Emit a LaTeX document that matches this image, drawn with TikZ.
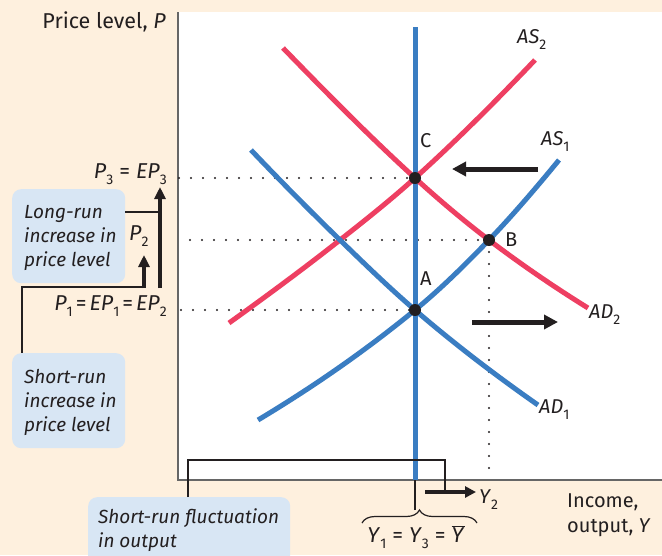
\documentclass[tikz,border=0pt]{standalone}
\usepackage{fontspec}
\setmainfont{Fira Sans}
\usetikzlibrary{arrows.meta,decorations.pathreplacing}
\definecolor{bgcream}{HTML}{FEF0DE}
\definecolor{curveblue}{HTML}{3A7DC2}
\definecolor{curvered}{HTML}{EE3F62}
\definecolor{boxblue}{HTML}{D8E6F4}
\definecolor{axisgray}{HTML}{666666}
\definecolor{inkblack}{HTML}{231F20}
\newcommand\sbx[1]{\raisebox{-0.32em}{\fontsize{14}{14}\selectfont #1}}
\newcommand\eqsp{\hspace{3pt}=\hspace{3pt}}
\tikzset{
  curve/.style={line width=5pt},
  dotline/.style={inkblack,line width=2.4pt,line cap=round,dash pattern=on 0pt off 12pt},
  ptdot/.style={circle,fill=inkblack,inner sep=0pt,minimum size=12pt},
  bigarrow/.style={inkblack,line width=5pt,-{Triangle[length=14pt,width=14pt]}},
  uparrow/.style={inkblack,line width=4pt,-{Triangle[length=12pt,width=11pt]}},
  connector/.style={inkblack,line width=1.2pt},
  notebox/.style={fill=boxblue,rounded corners=9pt},
  lbl/.style={font=\fontsize{20}{24}\selectfont,text=inkblack,inner sep=0pt},
  plbl/.style={font=\fontsize{21.5}{24}\selectfont,text=inkblack,inner sep=0pt},
  boxtext/.style={font=\fontsize{19}{24}\selectfont\itshape,text=inkblack,align=left,inner sep=0pt}
}
\begin{document}
\begin{tikzpicture}[x=1pt,y=-1pt]
\useasboundingbox (0,0) rectangle (662,555);
\fill[bgcream] (0,0) rectangle (662,555);
\fill[white] (178,12) rectangle (662,480);
% axes
\coordinate (ytop) at (178,12);
\coordinate (origin) at (178,480);
\coordinate (xend) at (662,480);
\draw[axisgray,line width=2pt] (ytop) -- (origin) -- (xend);
% points
\coordinate (A) at (415,310);
\coordinate (B) at (489,240);
\coordinate (C) at (415,178);
% dotted guides
\coordinate (p3) at (179,178);
\coordinate (p2) at (190,240);
\coordinate (p1) at (181,310);
\coordinate (bfoot) at (489,474);
\draw[dotline] (p3) -- (C);
\draw[dotline] (p2) -- (B);
\draw[dotline] (p1) -- (A);
\draw[dotline] (B) -- (bfoot);
% LRAS
\coordinate (lrtop) at (415,27);
\coordinate (lrbot) at (415,480);
\draw[curve,curveblue] (lrtop) -- (lrbot);
% AS1
\draw[curve,curveblue] (258,420) .. controls (310.3,388.6) and (362.7,352.9) .. (A)
  .. controls (439.7,289.8) and (464.3,265.7) .. (B)
  .. controls (512.3,215.7) and (535.7,188.4) .. (559,160);
% AS2
\draw[curve,curvered] (229,323) .. controls (266,296.4) and (303,269.2) .. (340,240)
  .. controls (365,220.3) and (390,200.5) .. (C)
  .. controls (455,142) and (495,102) .. (535,60);
% AD1
\draw[curve,curveblue] (251,150) .. controls (280.7,181.2) and (310.3,211.2) .. (340,240)
  .. controls (365,264.3) and (390,288.5) .. (A)
  .. controls (456,345.3) and (497,376.3) .. (538,405);
% AD2
\draw[curve,curvered] (283,48) .. controls (327,93.3) and (371,138) .. (C)
  .. controls (439.7,200.5) and (464.3,221.2) .. (B)
  .. controls (522,265.1) and (555,287.5) .. (588,308);
% dots
\node[ptdot] (nA) at (A) {};
\node[ptdot] (nB) at (B) {};
\node[ptdot] (nC) at (C) {};
\node[lbl,anchor=base west] (lA) at (420,285) {A};
\node[lbl,anchor=base west] (lB) at (505,246) {B};
\node[lbl,anchor=base west] (lC) at (420,147) {C};
% curve labels
\node[lbl,anchor=base west] (las2) at (517,43) {\textit{AS}\sbx{2}};
\node[lbl,anchor=base west] (las1) at (541,145) {\textit{AS}\sbx{1}};
\node[lbl,anchor=base west] (lad2) at (589,318) {\textit{AD}\sbx{2}};
\node[lbl,anchor=base west] (lad1) at (539,413) {\textit{AD}\sbx{1}};
% shift arrows
\coordinate (la1) at (538,169);
\coordinate (la2) at (452,169);
\draw[bigarrow] (la1) -- (la2);
\coordinate (ra1) at (472,322);
\coordinate (ra2) at (558,322);
\draw[bigarrow] (ra1) -- (ra2);
% axis titles
\node[plbl,anchor=base east] (ytitle) at (166,28) {Price level, \textit{P}};
\node[lbl,anchor=base west] (xtitle1) at (567,507) {Income,};
\node[lbl,anchor=base west] (xtitle2) at (567,532) {output, \textit{Y}};
% price labels
\node[plbl,anchor=base east] (lp3) at (167,178) {\textit{P}\sbx{3}\hspace{6pt}=\hspace{6pt}\textit{EP}\sbx{3}};
\node[plbl,anchor=base west] (lp2) at (129,240) {\textit{P}\sbx{2}};
\node[plbl,anchor=base east] (lp1) at (167,310) {\textit{P}\sbx{1}\eqsp\textit{EP}\sbx{1}\eqsp\textit{EP}\sbx{2}};
% up arrows
\coordinate (ta1) at (160,288);
\coordinate (ta2) at (160,187);
\coordinate (sa1) at (144,288);
\coordinate (sa2) at (144,255);
\draw[uparrow] (ta1) -- (ta2);
\draw[uparrow] (sa1) -- (sa2);
% boxes
\node[notebox,minimum width=113pt,minimum height=94pt,anchor=north west] (lrbox) at (12,189) {};
\node[boxtext,anchor=west] (lrtext) at ([xshift=12pt,yshift=-2pt]lrbox.west) {Long-run\\increase in\\price level};
\node[notebox,minimum width=113pt,minimum height=95pt,anchor=north west] (srbox) at (12,353) {};
\node[boxtext,anchor=west] (srtext) at ([xshift=12pt,yshift=-2pt]srbox.west) {Short-run\\increase in\\price level};
\node[notebox,minimum width=202pt,minimum height=70pt,anchor=north west] (fbox) at (88,497) {};
\node[boxtext,anchor=north west] (ftext) at (98,508) {Short-run fluctuation\\in output};
% connectors
\coordinate (lrc) at (158,212);
\draw[connector] (lrbox.east |- lrc) -- (lrc);
\coordinate (src1) at (144,287);
\coordinate (src2) at (22,287);
\draw[connector] (src1) -- (src2) -- (src2 |- srbox.north);
\coordinate (fc1) at (188,460);
\coordinate (fc2) at (445,460);
\coordinate (fc3) at (445,492);
\draw[connector] (fbox.north -| fc1) -- (fc1) -- (fc2) -- (fc3);
% Y2 arrow
\coordinate (ya1) at (425,492);
\coordinate (ya2) at (476,492);
\draw[inkblack,line width=4pt,-{Triangle[length=11pt,width=11pt]}] (ya1) -- (ya2);
\node[lbl,anchor=base west] (ly2) at (479,503) {\textit{Y}\sbx{2}};
% brace
\coordinate (br1) at (362,523);
\coordinate (br2) at (477,523);
\draw[connector,decorate,decoration={brace,amplitude=13pt}] (br1) -- (br2);
\coordinate (brtip) at (415,510);
\draw[connector] (brtip) -- (lrbot);
\node[plbl,anchor=base] (lybar) at (416,542) {\textit{Y}\sbx{1}\hspace{6pt}=\hspace{6pt}\textit{Y}\sbx{3}\hspace{6pt}=\hspace{6pt}$\overline{\mbox{\textit{Y}}}$};
\end{tikzpicture}
\end{document}
